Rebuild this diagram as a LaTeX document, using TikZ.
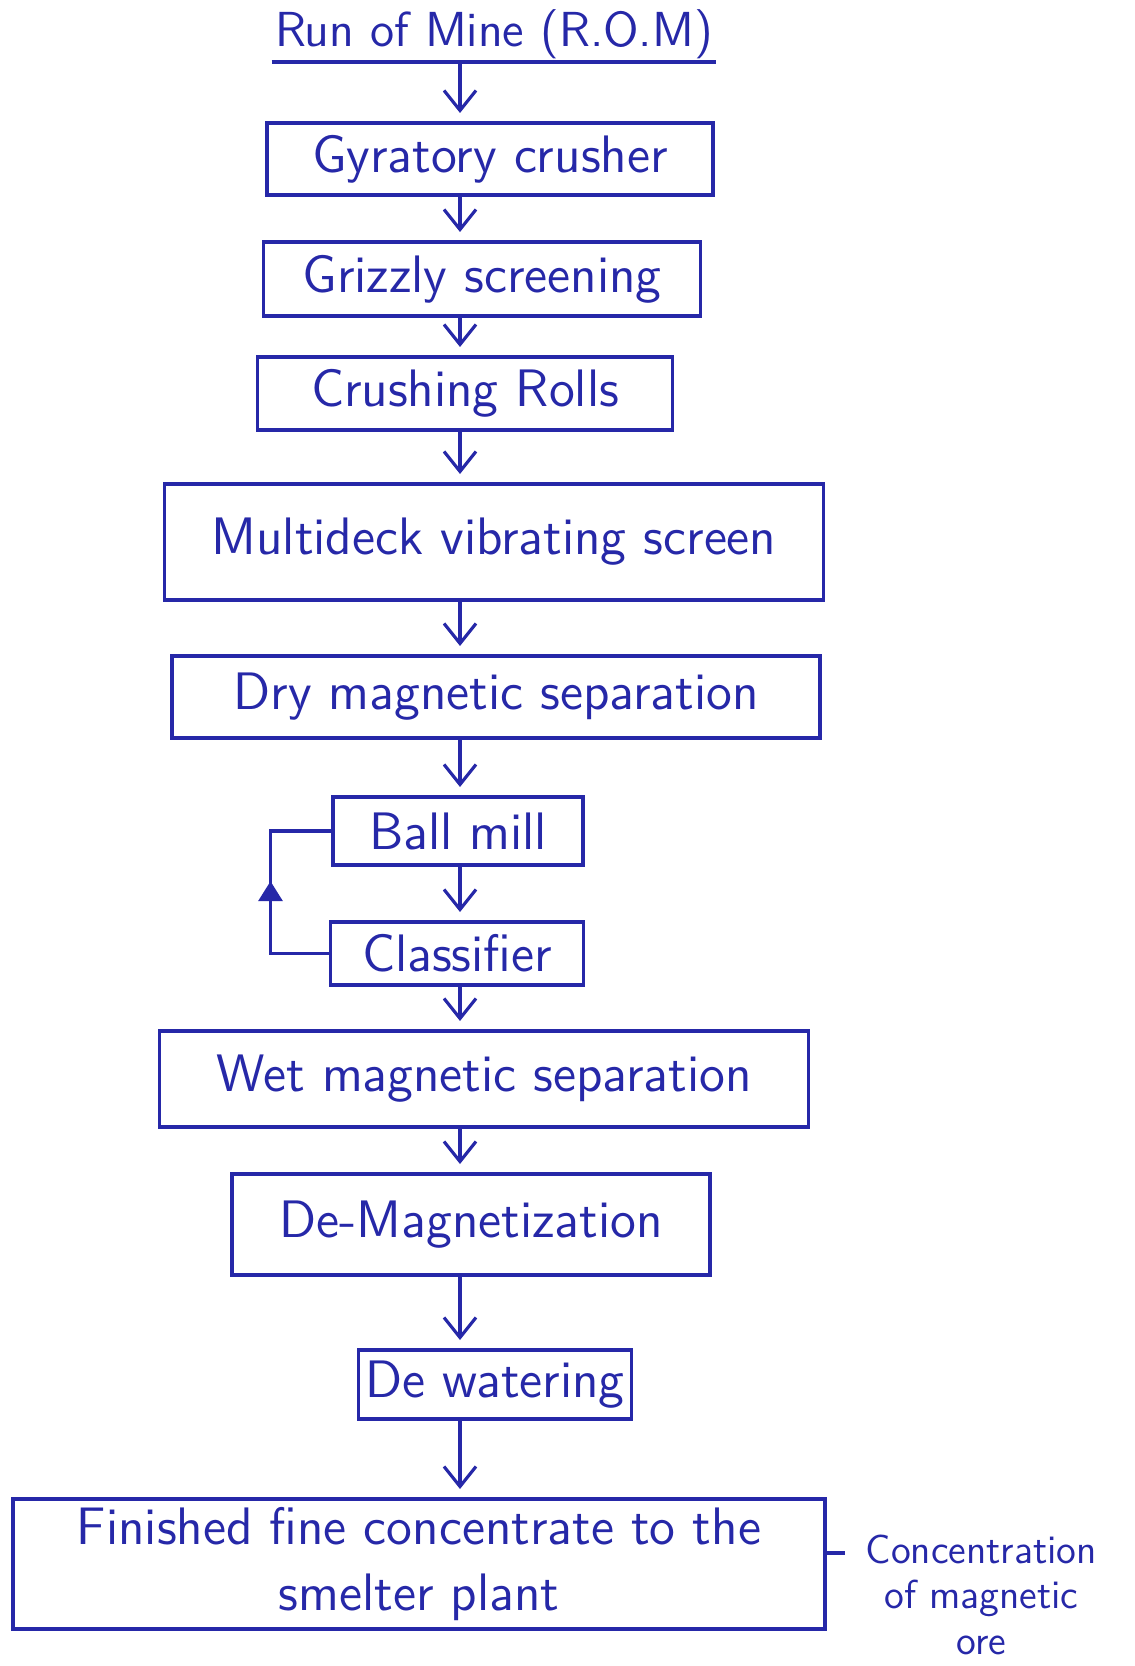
\documentclass[tikz,border=0pt]{standalone}
\usetikzlibrary{positioning}
\usetikzlibrary{arrows.meta}
\usetikzlibrary{decorations.markings}

\definecolor{ink}{RGB}{38,40,168}

\tikzset{
    stepbox/.style={rectangle, draw=ink, line width=1pt, text=ink, font=\sffamily\fontsize{15}{19}\selectfont, inner sep=2pt, outer sep=0pt},
    flow/.style={draw=ink, line width=0.9pt, -{Straight Barb[length=2mm,width=3.2mm]}, shorten >=1mm},
}

\begin{document}
\begin{tikzpicture}
    \useasboundingbox (0,0) rectangle (113.4mm,-166.6mm);
    \coordinate (spine) at (46mm,0);

    \node (rom) [anchor=south, minimum width=43.5mm, inner sep=1pt, outer sep=0pt, text=ink, font=\sffamily\fontsize{14}{17}\selectfont] at (49.4mm,-6.2mm) {Run of Mine (R.O.M)};
    \draw[ink, line width=1pt] (rom.south west) -- (rom.south east);

    \node (gyr) [stepbox, minimum width=44.6mm, minimum height=7.2mm, below = 6.1mm of rom, xshift=-0.4mm] {Gyratory crusher};
    \node (griz) [stepbox, minimum width=43.7mm, minimum height=7.4mm, below = 4.7mm of gyr, xshift=-0.8mm] {Grizzly screening};
    \node (crush) [stepbox, minimum width=41.5mm, minimum height=7.3mm, below = 4.1mm of griz, xshift=-1.7mm] {Crushing Rolls};
    \node (multi) [stepbox, minimum width=65.9mm, minimum height=11.6mm, below = 5.4mm of crush, xshift=2.9mm] {Multideck vibrating screen};
    \node (dry) [stepbox, minimum width=64.8mm, minimum height=8.2mm, below = 5.6mm of multi, xshift=0.2mm] {Dry magnetic separation};

    \node (ball) [stepbox, minimum width=25mm, minimum height=6.8mm, below = 5.9mm of dry, xshift=-3.8mm] {Ball mill};
    \node (cls) [stepbox, minimum width=25.3mm, minimum height=6.3mm, below = 5.7mm of ball, xshift=-0.1mm] {Classifier};

    \node (wet) [stepbox, minimum width=64.9mm, minimum height=9.6mm, below = 4.6mm of cls, xshift=2.7mm] {Wet magnetic separation};
    \node (demag) [stepbox, minimum width=47.8mm, minimum height=10.1mm, below = 4.7mm of wet, xshift=-1.3mm] {De-Magnetization};
    \node (dewat) [stepbox, minimum width=22.5mm, minimum height=6.9mm, below = 7.5mm of demag, xshift=2.4mm] {De watering};
    \node (fin) [stepbox, align=center, minimum width=81.2mm, minimum height=13mm, below = 8mm of dewat, xshift=-7.6mm] {Finished fine concentrate to the\\smelter plant};

    \node (side) [anchor=north west, align=center, inner sep=0pt, text=ink, font=\sffamily\fontsize{11.5}{13}\selectfont] at (86.5mm,-153.4mm) {Concentration\\of magnetic\\ore};

    % main flow
    \foreach \a/\b in {rom/gyr, gyr/griz, griz/crush, crush/multi, multi/dry, dry/ball, ball/cls, cls/wet, wet/demag, demag/dewat, dewat/fin}
        \draw[flow] (spine |- \a.south) -- (spine |- \b.north);

    % recycle from classifier back to ball mill
    \draw[ink, line width=1pt, postaction={decorate}, decoration={markings, mark=at position 0.54 with {\arrow{Triangle[length=2mm,width=2.4mm]}}}] (cls.west) -- ++(-6mm,0) |- (ball.west);

    \draw[ink, line width=1pt, shorten >=2mm] ([yshift=1.1mm]fin.east) -- ([yshift=1.1mm]fin.east -| side.west);
\end{tikzpicture}
\end{document}
